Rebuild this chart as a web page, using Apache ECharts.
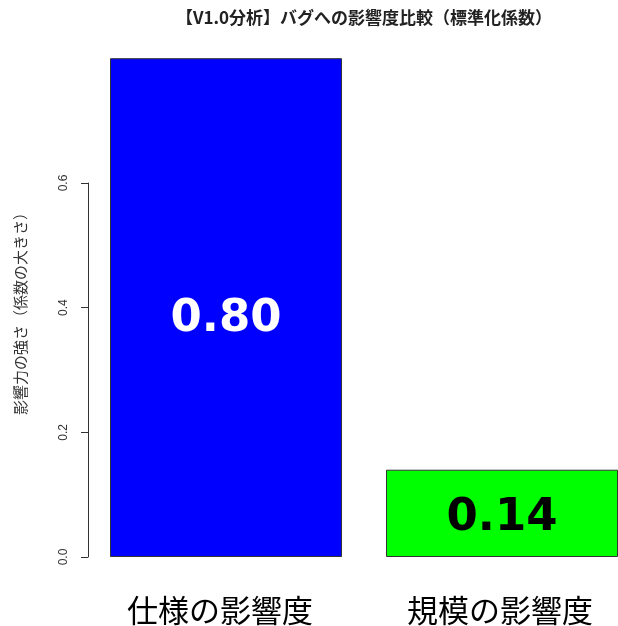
<!DOCTYPE html>
<html>
<head>
<meta charset="utf-8">
<script src="https://cdn.jsdelivr.net/npm/echarts@6/dist/echarts.min.js"></script>
<style>
  html, body { margin: 0; padding: 0; background: #fff; overflow: hidden; }
  /* the plot region runs a little past the visible right edge */
  #chart { width: 640px; height: 626px; }
</style>
</head>
<body>
<div id="chart"></div>
<script>
// Standardised coefficients of each factor on bug counts (model V1.0)
const categories = ['仕様の影響度', '規模の影響度'];
const coefficients = [0.80, 0.14];
const barColors = ['#0000ff', '#00ff00'];
const labelColors = ['#ffffff', '#000000'];
const yTicks = [0, 0.2, 0.4, 0.6];

const titleText = '【V1.0分析】バグへの影響度比較（標準化係数）';
const yAxisTitle = '影響力の強さ（係数の大きさ）';

const chart = echarts.init(document.getElementById('chart'));

const seriesData = coefficients.map((v, i) => ({
  value: v,
  itemStyle: { color: barColors[i] },
  label: { color: labelColors[i], offset: [0, i === 0 ? 12 : 5] }
}));

const catTextStyle = { fontSize: 31, lineHeight: 31, color: '#000', fontFamily: 'Noto Sans CJK JP' };

chart.setOption({
  animation: false,
  backgroundColor: '#ffffff',
  grid: [
    // plotting area for the bars
    { left: 88, top: 38.25, bottom: 69, right: 0, containLabel: false },
    // grid carrying the visible y axis, which spans only the tick range
    { left: 88, top: 183, bottom: 69, width: 10, containLabel: false }
  ],
  xAxis: [
    {
      type: 'category', gridIndex: 0, data: categories,
      axisLine: { show: false }, axisTick: { show: false },
      axisLabel: {
        interval: 0, hideOverlap: false,
        margin: 38, ...catTextStyle,
        formatter: (v, i) => (i === 0 ? '{a|' : '{b|') + v + '}',
        rich: {
          a: { ...catTextStyle, padding: [0, 12, 0, 0] },
          b: { ...catTextStyle, padding: [0, 4, 0, 0] }
        }
      }
    },
    { type: 'value', gridIndex: 1, show: false }
  ],
  yAxis: [
    { type: 'value', gridIndex: 0, min: 0, max: 0.832, show: false, splitLine: { show: false } },
    {
      type: 'value', gridIndex: 1, min: yTicks[0], max: yTicks[yTicks.length - 1], interval: 0.2,
      splitLine: { show: false },
      axisLine: { show: true, lineStyle: { color: '#333', width: 1 } },
      axisTick: { show: true, length: 7, lineStyle: { color: '#333', width: 1 } },
      axisLabel: {
        rotate: 90, margin: 18, fontSize: 12, color: '#333',
        fontFamily: 'Liberation Sans, Arial, sans-serif',
        formatter: v => v.toFixed(1)
      }
    }
  ],
  series: [{
    type: 'bar',
    xAxisIndex: 0, yAxisIndex: 0,
    data: seriesData,
    barWidth: 232,
    itemStyle: { borderColor: '#333', borderWidth: 1 },
    label: {
      show: true, position: 'inside',
      fontFamily: 'DejaVu Sans', fontWeight: 'bold', fontSize: 45,
      formatter: p => p.value.toFixed(2)
    }
  }],
  graphic: [
    {
      type: 'text', x: 364, y: 18,
      style: {
        text: titleText, align: 'center', verticalAlign: 'middle',
        font: 'bold 17px "Noto Sans CJK JP"', fill: '#222'
      }
    },
    {
      type: 'text', x: 20, y: 310, rotation: Math.PI / 2,
      style: {
        text: yAxisTitle, align: 'center', verticalAlign: 'middle',
        font: '15px "Noto Sans CJK JP"', fill: '#333'
      }
    }
  ]
});
</script>
</body>
</html>
